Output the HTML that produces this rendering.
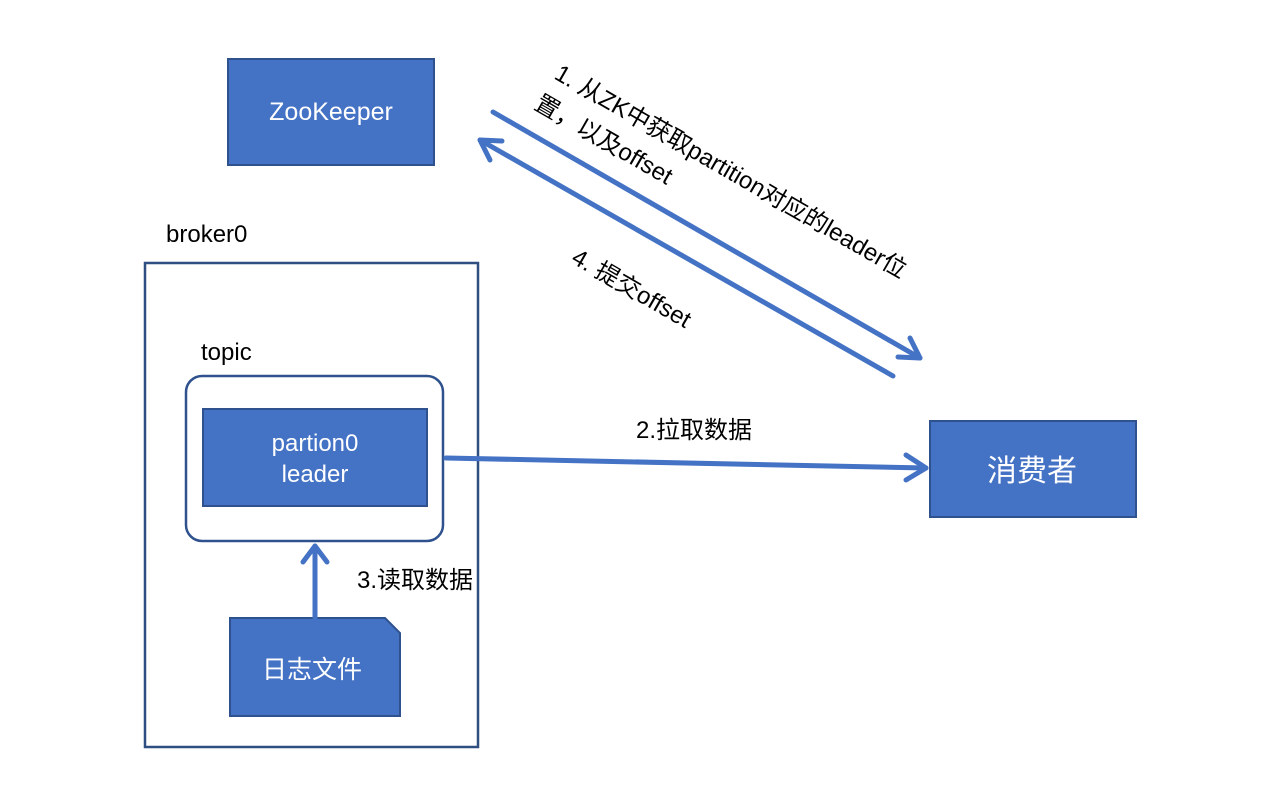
<!DOCTYPE html>
<html><head><meta charset="utf-8"><style>
body{margin:0;background:#fff;}
svg text{font-family:"Liberation Sans","Noto Sans CJK SC",sans-serif;}
</style></head><body>
<svg width="1282" height="801" viewBox="0 0 1282 801" xmlns="http://www.w3.org/2000/svg">
<rect width="1282" height="801" fill="#fff"/>
<rect x="228" y="59" width="206" height="106" fill="#4472c4" stroke="#2f528f" stroke-width="2"/>
<text x="331" y="120" font-size="25" fill="#fff" text-anchor="middle">ZooKeeper</text>
<text x="166" y="242" font-size="24" fill="#000">broker0</text>
<rect x="145" y="263" width="333" height="484" fill="none" stroke="#2f4f80" stroke-width="2.5"/>
<text x="201" y="360" font-size="24" fill="#000">topic</text>
<rect x="186" y="376" width="257" height="165" rx="16" fill="#fff" stroke="#2f528f" stroke-width="2.5"/>
<rect x="203" y="409" width="224" height="97" fill="#4472c4" stroke="#2f528f" stroke-width="2"/>
<text x="315" y="451" font-size="24" fill="#fff" text-anchor="middle">partion0</text>
<text x="315" y="482" font-size="24" fill="#fff" text-anchor="middle">leader</text>
<polygon points="230,618 385,618 400,633 400,716 230,716" fill="#4472c4" stroke="#2f528f" stroke-width="2"/>
<text x="312" y="678" font-size="25" fill="#fff" text-anchor="middle">日志文件</text>
<rect x="930" y="421" width="206" height="96" fill="#4472c4" stroke="#2f528f" stroke-width="2"/>
<text x="1032" y="481" font-size="30" fill="#fff" text-anchor="middle">消费者</text>
<g stroke="#4472c4" stroke-width="5" fill="none" stroke-linecap="round" stroke-linejoin="round">
<line x1="315" y1="618" x2="315" y2="546"/>
<polyline points="303,562 315,546 327,562"/>
<line x1="446" y1="458" x2="926" y2="468"/>
<polyline points="906,455 926,468 906,480"/>
<line x1="493" y1="112" x2="920" y2="358"/>
<polyline points="898,357 920,358 910,338"/>
<line x1="893" y1="376" x2="480" y2="140"/>
<polyline points="502,141 480,140 490,160"/>
</g>
<text font-size="24" fill="#000" transform="translate(553,78) rotate(30)">1. 从ZK中获取partition对应的leader位</text>
<text font-size="24" fill="#000" transform="translate(533,108) rotate(30)">置，以及offset</text>
<text font-size="24" fill="#000" transform="translate(570,262) rotate(30)">4. 提交offset</text>
<text x="636" y="438" font-size="24" fill="#000">2.拉取数据</text>
<text x="357" y="588" font-size="24" fill="#000">3.读取数据</text>
</svg>
</body></html>
